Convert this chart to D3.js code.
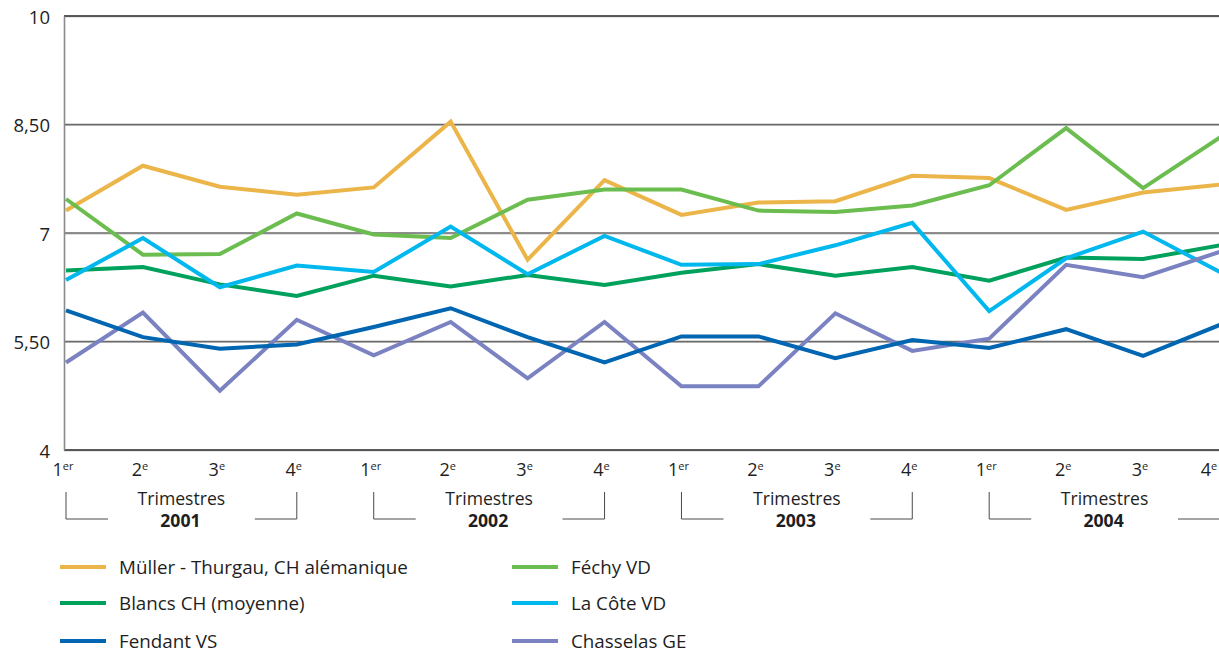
<!DOCTYPE html>
<html lang="fr">
<head>
<meta charset="utf-8">
<script src="https://cdn.jsdelivr.net/npm/d3@7/dist/d3.min.js"></script>
<style>
  html, body { margin: 0; padding: 0; background: #fff; }
  svg { display: block; font-family: "Open Sans", "Noto Sans", sans-serif; }
</style>
</head>
<body>
<svg id="chart" width="1219" height="650"></svg>
<script>
// Prix moyens trimestriels des vins blancs (CHF/l), 2001–2004
const years = ["2001", "2002", "2003", "2004"];
const quarterNums = ["1", "2", "3", "4"];
const quarterSups = ["er", "e", "e", "e"];
const groupTitle = "Trimestres";

const yTickValues = [4, 5.5, 7, 8.5, 10];
const yTickLabels = ["4", "5,50", "7", "8,50", "10"];

const seriesNames = [
  "Müller - Thurgau, CH alémanique",
  "Féchy VD",
  "Blancs CH (moyenne)",
  "La Côte VD",
  "Fendant VS",
  "Chasselas GE"
];
const seriesColors = ["#ebb54a", "#6cbd50", "#00a15d", "#00b8ee", "#0066b1", "#7a82c1"];

const mullerThurgau = [7.31, 7.93, 7.64, 7.53, 7.63, 8.54, 6.63, 7.73, 7.25, 7.42, 7.44, 7.79, 7.76, 7.32, 7.56, 7.67];
const fechy        = [7.47, 6.70, 6.71, 7.27, 6.98, 6.93, 7.46, 7.60, 7.60, 7.31, 7.29, 7.38, 7.66, 8.45, 7.62, 8.32];
const blancsCH     = [6.48, 6.53, 6.29, 6.13, 6.41, 6.26, 6.42, 6.28, 6.45, 6.57, 6.41, 6.53, 6.34, 6.66, 6.64, 6.83];
const laCote       = [6.35, 6.93, 6.25, 6.55, 6.46, 7.09, 6.43, 6.96, 6.56, 6.57, 6.83, 7.14, 5.92, 6.65, 7.02, 6.46];
const fendant      = [5.93, 5.56, 5.40, 5.46, 5.70, 5.96, 5.56, 5.21, 5.57, 5.57, 5.27, 5.52, 5.41, 5.67, 5.30, 5.73];
const chasselas    = [5.21, 5.90, 4.82, 5.80, 5.31, 5.77, 4.99, 5.77, 4.88, 4.88, 5.89, 5.37, 5.54, 6.56, 6.39, 6.74];

const seriesValues = [mullerThurgau, fechy, blancsCH, laCote, fendant, chasselas];
// drawing order: lower series on top
const drawOrder = [0, 1, 2, 3, 5, 4];

const svg = d3.select("#chart");
const W = 1219;

const nPoints = years.length * quarterNums.length;
const x = d3.scaleLinear().domain([0, nPoints - 1]).range([66, 1220]);
const y = d3.scaleLinear().domain([4, 10]).range([450, 16]);
const plotLeft = 64;

// grid lines
const grid = svg.append("g");
yTickValues.forEach(v => {
  const edge = (v === 10 || v === 4);
  grid.append("line")
    .attr("x1", plotLeft).attr("x2", W)
    .attr("y1", y(v) + 1).attr("y2", y(v) + 1)
    .attr("stroke", edge ? "#cfcfcf" : "#c4c4c4").attr("stroke-width", 1);
  grid.append("line")
    .attr("x1", plotLeft).attr("x2", W)
    .attr("y1", y(v)).attr("y2", y(v))
    .attr("stroke", edge ? "#262626" : "#6a6a6a").attr("stroke-width", 1.4);
});

// y axis
const yAxis = d3.axisLeft(y)
  .tickValues(yTickValues)
  .tickFormat((d, i) => yTickLabels[i])
  .tickSize(0)
  .tickPadding(14);
const yAxisG = svg.append("g")
  .attr("transform", `translate(${plotLeft},0)`)
  .call(yAxis);
yAxisG.select(".domain")
  .attr("stroke", "#8a8a8a").attr("stroke-width", 1.6);
yAxisG.selectAll("text")
  .attr("font-size", 18.5).attr("fill", "#1e1e1e")
  .attr("font-family", "'Open Sans', sans-serif")
  .attr("dy", "0.4em");

// series lines
const line = d3.line()
  .x((d, i) => x(i))
  .y(d => y(d));

const linesG = svg.append("g");
drawOrder.forEach(k => {
  linesG.append("path")
    .datum(seriesValues[k])
    .attr("d", line)
    .attr("fill", "none")
    .attr("stroke", seriesColors[k])
    .attr("stroke-width", 4)
    .attr("stroke-linejoin", "miter")
    .attr("stroke-miterlimit", 4);
});

// quarter labels
const xLab = svg.append("g")
  .attr("font-size", 18).attr("fill", "#1e1e1e");
d3.range(nPoints).forEach(i => {
  const q = i % 4;
  const cx = Math.min(x(i) - 3, 1209);
  const t = xLab.append("text")
    .attr("x", cx).attr("y", 476)
    .attr("text-anchor", "middle");
  t.append("tspan").text(quarterNums[q]);
  t.append("tspan").text(quarterSups[q])
    .attr("font-size", 11).attr("dy", -6);
});

// year brackets
const brk = svg.append("g");
years.forEach((yr, g) => {
  const x0 = x(g * 4), x1 = x(g * 4 + 3);
  const cx = (x0 + x1) / 2;
  brk.append("path")
    .attr("d", `M${x0},492V519H${x0 + 42}M${x1 - 42},519H${x1}V492`)
    .attr("fill", "none").attr("stroke", "#4a4a4a").attr("stroke-width", 1);
  brk.append("text")
    .attr("x", cx).attr("y", 505)
    .attr("text-anchor", "middle")
    .attr("font-size", 17.6).attr("fill", "#1e1e1e")
    .text(groupTitle);
  brk.append("text")
    .attr("x", cx - 1).attr("y", 527)
    .attr("text-anchor", "middle")
    .attr("font-size", 17.6).attr("font-weight", "bold").attr("fill", "#1e1e1e")
    .text(yr);
});

// legend: two columns, three rows
const legCols = [60, 512];
const legRows = [567, 603, 641];
const leg = svg.append("g");
seriesNames.forEach((name, k) => {
  const lx = legCols[k % 2];
  const ly = legRows[Math.floor(k / 2)];
  leg.append("line")
    .attr("x1", lx).attr("x2", lx + 46)
    .attr("y1", ly).attr("y2", ly)
    .attr("stroke", seriesColors[k]).attr("stroke-width", 4);
  leg.append("text")
    .attr("x", lx + 59).attr("y", ly + 7)
    .attr("font-size", 18.8).attr("fill", "#1e1e1e")
    .text(name);
});
</script>
</body>
</html>
